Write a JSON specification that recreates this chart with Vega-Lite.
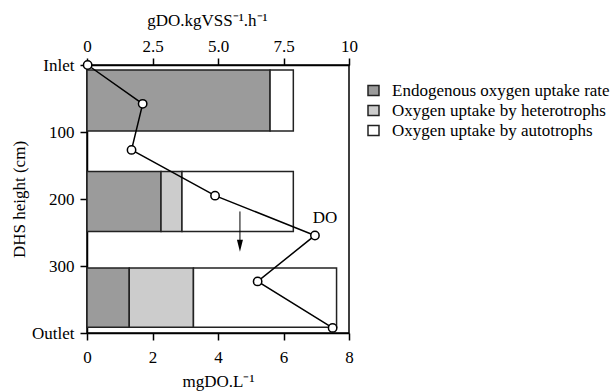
{
  "$schema": "https://vega.github.io/schema/vega-lite/v6.json",
  "autosize": {"type": "none"},
  "width": 262,
  "height": 268,
  "padding": {"left": 87, "top": 65, "right": 261, "bottom": 59},
  "background": "white",
  "config": {
    "font": "Liberation Serif",
    "view": {"stroke": "#000", "strokeWidth": 1.5},
    "axis": {
      "labelFont": "Liberation Serif", "titleFont": "Liberation Serif",
      "labelFontSize": 17, "titleFontSize": 17, "titleFontWeight": "normal",
      "labelColor": "#000", "titleColor": "#000",
      "domainColor": "#000", "tickColor": "#000",
      "domainWidth": 1.5, "tickWidth": 1.5, "tickSize": 7, "grid": false, "labelFlush": false
    },
    "legend": {"labelFont": "Liberation Serif", "labelFontSize": 17, "labelColor": "#000", "labelLimit": 0}
  },
  "datasets": {
    "bars": [
      {"seg": "Endogenous oxygen uptake rate", "lo": 0, "hi": 5.59, "top": 7.5, "bot": 98.5},
      {"seg": "Oxygen uptake by autotrophs", "lo": 5.59, "hi": 6.30, "top": 7.5, "bot": 98.5},
      {"seg": "Endogenous oxygen uptake rate", "lo": 0, "hi": 2.26, "top": 159, "bot": 248.4},
      {"seg": "Oxygen uptake by heterotrophs", "lo": 2.26, "hi": 2.90, "top": 159, "bot": 248.4},
      {"seg": "Oxygen uptake by autotrophs", "lo": 2.90, "hi": 6.30, "top": 159, "bot": 248.4},
      {"seg": "Endogenous oxygen uptake rate", "lo": 0, "hi": 1.29, "top": 303, "bot": 391.5},
      {"seg": "Oxygen uptake by heterotrophs", "lo": 1.29, "hi": 3.25, "top": 303, "bot": 391.5},
      {"seg": "Oxygen uptake by autotrophs", "lo": 3.25, "hi": 7.62, "top": 303, "bot": 391.5}
    ],
    "do": [
      {"h": 0, "do": 0.02},
      {"h": 58, "do": 1.70},
      {"h": 126.7, "do": 1.36},
      {"h": 195, "do": 3.91},
      {"h": 254.4, "do": 6.96},
      {"h": 323, "do": 5.21},
      {"h": 392.4, "do": 7.50}
    ],
    "label": [{"text": "DO", "x": 7.27, "y": 229}],
    "arrow": [{"x": 4.67, "y1": 218.6, "y2": 266, "tip": 269.7}]
  },
  "layer": [
    {
      "data": {"name": "bars"},
      "mark": {"type": "rect", "stroke": "#222", "strokeWidth": 1.5},
      "encoding": {
        "x": {"field": "lo", "type": "quantitative",
              "scale": {"domain": [0, 8], "nice": false},
              "axis": {"orient": "bottom", "values": [0, 2, 4, 6, 8], "title": "mgDO.L⁻¹",
                       "labelPadding": 9, "titlePadding": 8, "labelFlush": false}},
        "x2": {"field": "hi"},
        "y": {"field": "top", "type": "quantitative",
              "scale": {"domain": [0, 400], "nice": false, "reverse": true},
              "axis": {"orient": "left", "values": [0, 100, 200, 300, 400], "title": "DHS height (cm)",
                       "labelExpr": "datum.value == 0 ? 'Inlet' : datum.value == 400 ? 'Outlet' : datum.label",
                       "labelPadding": 6, "titlePadding": 3}},
        "y2": {"field": "bot"},
        "color": {"field": "seg", "type": "nominal",
                  "scale": {"domain": ["Endogenous oxygen uptake rate", "Oxygen uptake by heterotrophs", "Oxygen uptake by autotrophs"],
                            "range": ["#9b9b9b", "#cccccc", "#ffffff"]},
                  "legend": {"orient": "none", "legendX": 278, "legendY": 17, "title": null,
                             "symbolType": "M-1,-0.9H1V0.9H-1Z", "symbolSize": 121,
                             "labelOffset": 10, "rowPadding": 2, "padding": 0, "labelLimit": 0,
                             "labelFontSize": 17, "labelFont": "Liberation Serif",
                             "encode": {"symbols": {"update": {"stroke": {"value": "#aaa"}, "strokeWidth": {"value": 1}, "opacity": {"value": 1}}}}}}
      }
    },
    {
      "data": {"name": "do"},
      "mark": {"type": "line", "color": "#000", "strokeWidth": 1.5},
      "encoding": {
        "x": {"field": "do", "type": "quantitative",
              "axis": {"orient": "top", "values": [0, 2, 4, 6, 8], "title": "gDO.kgVSS⁻¹.h⁻¹",
                       "labelExpr": "datum.value == 0 ? '0' : datum.value == 8 ? '10' : format(datum.value * 1.25, '.1f')",
                       "labelPadding": 3, "titlePadding": 8, "titleX": 120, "labelFlush": false}},
        "y": {"field": "h", "type": "quantitative"},
        "order": {"field": "h"}
      }
    },
    {
      "data": {"name": "do"},
      "mark": {"type": "point", "shape": "circle", "filled": true, "fill": "#fff", "stroke": "#000", "strokeWidth": 1.5, "size": 70, "opacity": 1},
      "encoding": {
        "x": {"field": "do", "type": "quantitative", "axis": null},
        "y": {"field": "h", "type": "quantitative"}
      }
    },
    {
      "data": {"name": "label"},
      "mark": {"type": "text", "fontSize": 17, "font": "Liberation Serif", "color": "#000"},
      "encoding": {
        "x": {"field": "x", "type": "quantitative", "axis": null},
        "y": {"field": "y", "type": "quantitative"},
        "text": {"field": "text"}
      }
    },
    {
      "data": {"name": "arrow"},
      "mark": {"type": "rule", "color": "#000", "strokeWidth": 1},
      "encoding": {
        "x": {"field": "x", "type": "quantitative", "axis": null},
        "y": {"field": "y1", "type": "quantitative"},
        "y2": {"field": "y2"}
      }
    },
    {
      "data": {"name": "arrow"},
      "mark": {"type": "point", "shape": "M-0.5,-1L0.5,-1L0,1Z", "filled": true, "color": "#000", "size": 144, "opacity": 1},
      "encoding": {
        "x": {"field": "x", "type": "quantitative", "axis": null},
        "y": {"field": "tip", "type": "quantitative"}
      }
    }
  ],
  "resolve": {"axis": {"x": "independent"}}
}
